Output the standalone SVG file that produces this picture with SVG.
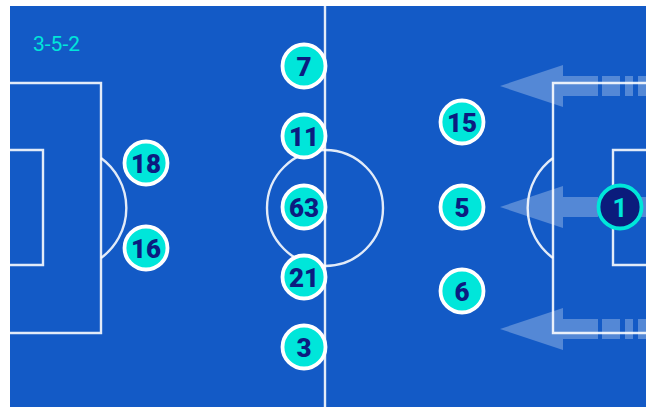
<svg xmlns="http://www.w3.org/2000/svg" width="651" height="407" viewBox="0 0 651 407">
<style>
.ln{fill:none;stroke:#fff;stroke-width:2.4;stroke-opacity:0.88}
.arr{fill:#fff;fill-opacity:0.28}
.pl circle{fill:#00E6DA;stroke:#fff;stroke-width:3.8}
.pl text{font-family:Roboto,"Liberation Sans",sans-serif;font-weight:900;font-size:26px;fill:#0C1C80;text-anchor:middle;dominant-baseline:central}
.gk circle{fill:#0B1C7C;stroke:#00E6DA;stroke-width:3.8}
.gk text{font-family:Roboto,"Liberation Sans",sans-serif;font-weight:700;font-size:26px;fill:#00E6DA;text-anchor:middle;dominant-baseline:central}
</style>
<rect x="0" y="0" width="651" height="407" fill="#fff"/>
<rect x="10" y="6" width="636" height="401" fill="#135AC6"/>
<g id="pitch">
<line class="ln" x1="325" y1="6" x2="325" y2="407"/>
<circle class="ln" cx="325" cy="208" r="58"/>
<polyline class="ln" points="10,83 101,83 101,333 10,333"/>
<polyline class="ln" points="10,150 43,150 43,265 10,265"/>
<path class="ln" d="M101,158 A62,62 0 0 1 101,258"/>
<polyline class="ln" points="646,83 553,83 553,333 646,333"/>
<polyline class="ln" points="646,150 613,150 613,265 646,265"/>
<path class="ln" d="M553,158 A62,62 0 0 0 553,258"/>
</g>
<g id="arrows">
<g transform="translate(0,86)">
<path class="arr" d="M500,0 L563,-21 L563,-10 L598,-10 L598,10 L563,10 L563,21 Z"/>
<rect class="arr" x="602" y="-10" width="18" height="20"/>
<rect class="arr" x="625" y="-10" width="8" height="20"/>
<rect class="arr" x="638" y="-10" width="8" height="20"/>
</g>
<g transform="translate(0,207)">
<path class="arr" d="M500,0 L563,-21 L563,-10 L598,-10 L598,10 L563,10 L563,21 Z"/>
<rect class="arr" x="602" y="-10" width="18" height="20"/>
<rect class="arr" x="625" y="-10" width="8" height="20"/>
<rect class="arr" x="638" y="-10" width="8" height="20"/>
</g>
<g transform="translate(0,329)">
<path class="arr" d="M500,0 L563,-21 L563,-10 L598,-10 L598,10 L563,10 L563,21 Z"/>
<rect class="arr" x="602" y="-10" width="18" height="20"/>
<rect class="arr" x="625" y="-10" width="8" height="20"/>
<rect class="arr" x="638" y="-10" width="8" height="20"/>
</g>
</g>
<text x="33" y="51" font-family="Roboto,'Liberation Sans',sans-serif" font-size="21" fill="#00E6DA">3-5-2</text>
<g id="p7" class="pl"><circle cx="304" cy="66" r="21.5"/><text x="304" y="67">7</text></g>
<g id="p11" class="pl"><circle cx="304" cy="136" r="21.5"/><text x="304" y="137">11</text></g>
<g id="p63" class="pl"><circle cx="304" cy="207" r="21.5"/><text x="304" y="208">63</text></g>
<g id="p21" class="pl"><circle cx="304" cy="277" r="21.5"/><text x="304" y="278">21</text></g>
<g id="p3" class="pl"><circle cx="304" cy="347" r="21.5"/><text x="304" y="348">3</text></g>
<g id="p18" class="pl"><circle cx="146" cy="163" r="21.5"/><text x="146" y="164">18</text></g>
<g id="p16" class="pl"><circle cx="146" cy="248" r="21.5"/><text x="146" y="249">16</text></g>
<g id="p15" class="pl"><circle cx="462" cy="122" r="21.5"/><text x="462" y="123">15</text></g>
<g id="p5" class="pl"><circle cx="462" cy="207" r="21.5"/><text x="462" y="208">5</text></g>
<g id="p6" class="pl"><circle cx="462" cy="291" r="21.5"/><text x="462" y="292">6</text></g>
<g id="p1" class="gk"><circle cx="620" cy="207" r="21.5"/><text x="620" y="208">1</text></g>
</svg>
